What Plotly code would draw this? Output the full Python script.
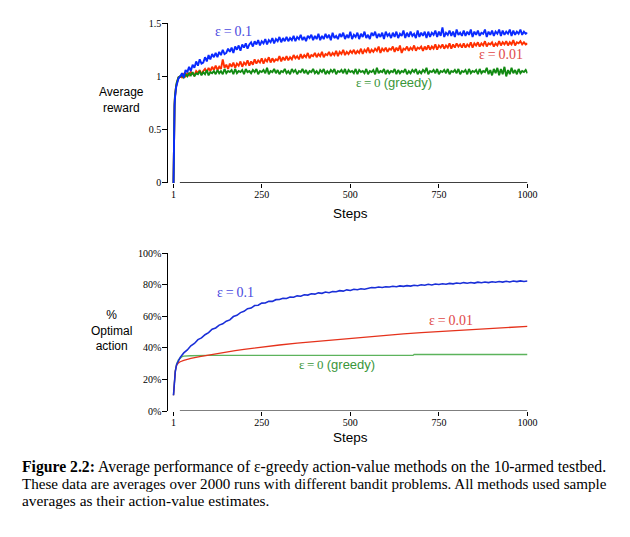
import plotly.graph_objects as go

W, H = 630, 537

# ---------------- data: top panel (average reward) ----------------
top_early_steps = [1, 2, 3, 4, 5, 6, 8, 10, 12, 15]
top_late_steps = list(range(20, 1001, 5))

reward_eps01_early = [0.0, 0.45, 0.62, 0.72, 0.79, 0.84, 0.89, 0.92, 0.95, 0.98]
reward_eps001_early = [0.0, 0.47, 0.64, 0.73, 0.80, 0.85, 0.90, 0.93, 0.96, 0.99]
reward_eps0_early = [0.0, 0.48, 0.65, 0.74, 0.81, 0.86, 0.90, 0.94, 0.97, 0.99]

reward_eps01 = [
    1.00, 1.03, 0.99, 1.06, 1.04, 1.09, 1.05, 1.11, 1.08, 1.14, 1.10, 1.16, 1.12, 1.13, 1.18, 1.14, 1.20, 1.16, 1.21, 1.18,
    1.22, 1.18, 1.23, 1.20, 1.25, 1.21, 1.22, 1.26, 1.23, 1.27, 1.22, 1.28, 1.25, 1.29, 1.24, 1.30, 1.27, 1.31, 1.26, 1.30,
    1.32, 1.28, 1.33, 1.30, 1.34, 1.29, 1.33, 1.31, 1.35, 1.30, 1.34, 1.32, 1.36, 1.31, 1.35, 1.33, 1.37, 1.32, 1.36, 1.33,
    1.37, 1.33, 1.36, 1.34, 1.38, 1.33, 1.37, 1.35, 1.39, 1.34, 1.37, 1.33, 1.38, 1.36, 1.39, 1.34, 1.38, 1.35, 1.40, 1.34,
    1.38, 1.35, 1.40, 1.36, 1.39, 1.34, 1.41, 1.36, 1.38, 1.35, 1.40, 1.37, 1.41, 1.35, 1.39, 1.36, 1.42, 1.35, 1.39, 1.37,
    1.41, 1.35, 1.40, 1.37, 1.42, 1.36, 1.39, 1.35, 1.41, 1.38, 1.42, 1.36, 1.40, 1.37, 1.41, 1.35, 1.42, 1.38, 1.40, 1.36,
    1.41, 1.37, 1.42, 1.36, 1.40, 1.38, 1.43, 1.36, 1.41, 1.37, 1.42, 1.38, 1.40, 1.36, 1.43, 1.37, 1.41, 1.38, 1.42, 1.36,
    1.42, 1.37, 1.41, 1.39, 1.43, 1.37, 1.42, 1.38, 1.46, 1.37, 1.41, 1.39, 1.43, 1.38, 1.42, 1.37, 1.44, 1.39, 1.41, 1.38,
    1.43, 1.38, 1.42, 1.39, 1.44, 1.37, 1.42, 1.39, 1.43, 1.38, 1.41, 1.40, 1.44, 1.37, 1.42, 1.39, 1.43, 1.38, 1.42, 1.40,
    1.44, 1.38, 1.43, 1.39, 1.42, 1.40, 1.44, 1.38, 1.43, 1.39, 1.42, 1.40, 1.44, 1.39, 1.42, 1.40, 1.41,
]

reward_eps001 = [
    1.00, 0.99, 1.02, 1.00, 1.03, 1.01, 1.04, 1.02, 1.01, 1.05, 1.03, 1.06, 1.02, 1.05, 1.07, 1.04, 1.08, 1.05, 1.09, 1.06,
    1.10, 1.06, 1.09, 1.07, 1.16, 1.08, 1.11, 1.07, 1.12, 1.09, 1.13, 1.08, 1.12, 1.10, 1.14, 1.09, 1.13, 1.11, 1.15, 1.10,
    1.14, 1.11, 1.16, 1.12, 1.15, 1.13, 1.17, 1.12, 1.16, 1.14, 1.18, 1.13, 1.17, 1.14, 1.16, 1.15, 1.19, 1.14, 1.18, 1.15,
    1.19, 1.15, 1.18, 1.16, 1.20, 1.17, 1.19, 1.16, 1.21, 1.17, 1.20, 1.18, 1.22, 1.17, 1.20, 1.19, 1.22, 1.18, 1.21, 1.19,
    1.23, 1.18, 1.21, 1.20, 1.23, 1.19, 1.22, 1.20, 1.24, 1.19, 1.23, 1.21, 1.25, 1.20, 1.23, 1.21, 1.24, 1.22, 1.25, 1.21,
    1.24, 1.22, 1.26, 1.21, 1.25, 1.23, 1.27, 1.22, 1.25, 1.23, 1.26, 1.24, 1.28, 1.22, 1.26, 1.24, 1.27, 1.23, 1.26, 1.25,
    1.28, 1.23, 1.27, 1.24, 1.29, 1.22, 1.26, 1.25, 1.28, 1.24, 1.27, 1.25, 1.29, 1.24, 1.27, 1.26, 1.28, 1.24, 1.28, 1.25,
    1.29, 1.25, 1.28, 1.26, 1.30, 1.25, 1.29, 1.27, 1.30, 1.26, 1.29, 1.27, 1.31, 1.26, 1.30, 1.27, 1.31, 1.28, 1.30, 1.27,
    1.31, 1.27, 1.30, 1.28, 1.32, 1.27, 1.31, 1.29, 1.32, 1.28, 1.31, 1.29, 1.33, 1.28, 1.31, 1.30, 1.32, 1.28, 1.31, 1.29,
    1.33, 1.29, 1.32, 1.30, 1.33, 1.29, 1.32, 1.30, 1.34, 1.29, 1.32, 1.31, 1.33, 1.30, 1.32, 1.30, 1.31,
]

reward_eps0 = [
    1.00, 1.01, 0.99, 1.02, 1.00, 1.03, 1.01, 1.04, 1.00, 1.03, 1.02, 1.05, 1.01, 1.04, 1.02, 1.06, 1.01, 1.04, 1.03, 1.05,
    1.02, 1.06, 1.03, 1.05, 1.02, 1.07, 1.03, 1.05, 1.04, 1.06, 1.02, 1.07, 1.03, 1.05, 1.04, 1.06, 1.02, 1.07, 1.04, 1.05,
    1.03, 1.06, 1.04, 1.07, 1.02, 1.05, 1.04, 1.06, 1.03, 1.08, 1.02, 1.05, 1.04, 1.07, 1.03, 1.06, 1.02, 1.05, 1.04, 1.07,
    1.03, 1.05, 1.02, 1.07, 1.04, 1.06, 1.02, 1.05, 1.04, 1.07, 1.03, 1.06, 1.02, 1.05, 1.04, 1.07, 1.03, 1.05, 1.02, 1.06,
    1.04, 1.07, 1.02, 1.05, 1.03, 1.06, 1.04, 1.07, 1.02, 1.05, 1.04, 1.06, 1.03, 1.07, 1.02, 1.06, 1.04, 1.05, 1.03, 1.07,
    1.02, 1.06, 1.04, 1.05, 1.03, 1.07, 1.02, 1.05, 1.04, 1.06, 1.02, 1.08, 1.03, 1.05, 1.04, 1.07, 1.02, 1.06, 1.03, 1.05,
    1.04, 1.07, 1.02, 1.06, 1.03, 1.05, 1.04, 1.07, 1.02, 1.05, 1.03, 1.06, 1.04, 1.07, 1.02, 1.05, 1.03, 1.06, 1.04, 1.08,
    1.02, 1.05, 1.04, 1.06, 1.03, 1.07, 1.02, 1.05, 1.04, 1.06, 1.03, 1.07, 1.02, 1.05, 1.04, 1.06, 1.03, 1.07, 1.02, 1.05,
    1.04, 1.06, 1.02, 1.07, 1.03, 1.05, 1.04, 1.06, 1.02, 1.07, 1.03, 1.05, 1.04, 1.08, 1.02, 1.06, 1.01, 1.07, 1.03, 1.08,
    1.01, 1.07, 1.02, 1.09, 1.00, 1.06, 1.02, 1.08, 1.03, 1.06, 1.02, 1.07, 1.03, 1.05, 1.04, 1.06, 1.03,
]

# ---------------- data: bottom panel (% optimal action) ----------------
opt_eps01_steps = [1, 2, 3, 4, 5, 6, 8] + list(range(10, 1001, 10))
opt_eps01 = [
    10, 14, 18, 21, 23, 24.8, 27.3,
    29.5, 34.0, 36.8, 38.7, 41.3, 42.8, 45.2, 46.3, 48.3, 49.6,
    51.8, 52.6, 54.4, 55.2, 56.9, 57.7, 59.8, 60.6, 62.3, 63.1,
    64.8, 65.2, 66.8, 67.0, 68.3, 68.4, 69.5, 69.4, 70.5, 70.6,
    71.4, 71.2, 72.2, 72.0, 72.9, 72.7, 73.6, 73.4, 74.2, 74.0,
    74.8, 74.5, 75.3, 74.9, 75.7, 75.5, 76.2, 75.9, 76.7, 76.3,
    77.1, 76.8, 77.4, 77.1, 77.6, 78.2, 78.0, 78.5, 78.2, 78.7,
    78.5, 79.0, 78.7, 79.2, 78.9, 79.4, 79.1, 79.6, 79.3, 79.9,
    79.6, 80.2, 79.8, 80.4, 80.1, 80.6, 80.3, 80.8, 80.5, 81.0,
    80.7, 81.3, 80.9, 81.4, 81.0, 81.6, 81.2, 81.7, 81.3, 81.8,
    81.5, 82.0, 81.6, 82.1, 81.7, 82.3, 81.9, 82.4, 82.0, 82.3,
]

opt_eps001_steps = [1, 2, 3, 4, 5, 6, 8, 10, 15, 20, 30, 40, 50, 75, 100, 125, 150, 175, 200,
                    225, 250, 275, 300, 350, 400, 450, 500, 550, 600, 650, 700, 750, 800, 850,
                    900, 950, 1000]
opt_eps001 = [10, 14, 18, 21, 23, 25, 27.5, 29, 30.5, 31.2, 32, 32.7, 33.3, 34.5, 35.5, 36.5,
              37.3, 38.2, 39, 39.8, 40.6, 41.2, 41.8, 43, 44, 45, 46.2, 47.2, 48.2, 48.9, 49.6,
              50.3, 51, 51.7, 52.4, 53, 53.6]

opt_eps0_steps = [1, 2, 3, 4, 5, 6, 8, 10, 15, 20, 25, 30, 50, 100, 677, 680, 1000]
opt_eps0 = [10, 14, 18, 21, 23.5, 25.5, 28, 30, 32.5, 33.8, 34.4, 34.7, 35.0, 35.2, 35.2, 35.8, 35.8]

x_tick_vals = [1, 250, 500, 750, 1000]
x_tick_text = ["1", "250", "500", "750", "1000"]
top_tick_vals = [0, 0.5, 1, 1.5]
top_tick_text = ["0", "0.5", "1", "1.5"]
bot_tick_vals = [0, 20, 40, 60, 80, 100]
bot_tick_text = ["0%", "20%", "40%", "60%", "80%", "100%"]

caption_lines = [
    "<b>Figure 2.2:</b> Average performance of ε-greedy action-value methods on the 10-armed testbed.",
    "These data are averages over 2000 runs with different bandit problems. All methods used sample",
    "averages as their action-value estimates.",
]

# ---------------- figure ----------------
def px(x):
    return x / W


def py(y):
    return 1 - y / H


SERIF = "Liberation Serif"
SANS = "Liberation Sans"

top_steps = top_early_steps + top_late_steps

fig = go.Figure()

fig.add_trace(go.Scatter(x=top_steps, y=reward_eps001_early + reward_eps001, mode="lines",
                         line=dict(color="#ff3000", width=1.9), xaxis="x", yaxis="y"))
fig.add_trace(go.Scatter(x=top_steps, y=reward_eps0_early + reward_eps0, mode="lines",
                         line=dict(color="#128a12", width=1.9), xaxis="x", yaxis="y"))
fig.add_trace(go.Scatter(x=top_steps, y=reward_eps01_early + reward_eps01, mode="lines",
                         line=dict(color="#0a2aff", width=1.9), xaxis="x", yaxis="y"))

fig.add_trace(go.Scatter(x=opt_eps0_steps, y=opt_eps0, mode="lines",
                         line=dict(color="#5cb35c", width=1.3), xaxis="x2", yaxis="y2"))
fig.add_trace(go.Scatter(x=opt_eps001_steps, y=opt_eps001, mode="lines",
                         line=dict(color="#e5321c", width=1.3), xaxis="x2", yaxis="y2"))
fig.add_trace(go.Scatter(x=opt_eps01_steps, y=opt_eps01, mode="lines",
                         line=dict(color="#1a2fd8", width=1.6), xaxis="x2", yaxis="y2"))

xdom = [px(171), px(536)]
xrange = [-13.7, 1000]
common_x = dict(domain=xdom, range=xrange, tickvals=x_tick_vals, ticktext=x_tick_text,
                ticks="outside", ticklen=4, tickcolor="black", showline=False, showgrid=False,
                zeroline=False, ticklabelstandoff=-2,
                tickfont=dict(family=SERIF, size=10, color="black"))
common_y = dict(ticks="outside", ticklen=5, tickcolor="black", showline=True, linecolor="black",
                linewidth=1, showgrid=False, zeroline=False, ticklabelstandoff=-1,
                tickfont=dict(family=SERIF, size=10, color="black"))

fig.update_layout(
    width=W, height=H, autosize=False,
    margin=dict(l=0, r=0, t=0, b=0),
    paper_bgcolor="white", plot_bgcolor="white",
    showlegend=False,
    xaxis=dict(anchor="y", **common_x),
    yaxis=dict(domain=[py(181), py(17.5)], range=[0, 1.5], anchor="x",
               tickvals=top_tick_vals, ticktext=top_tick_text, **common_y),
    xaxis2=dict(anchor="y2", **common_x),
    yaxis2=dict(domain=[py(414.3), py(252.7)], range=[0, 100], anchor="x2",
                tickvals=bot_tick_vals, ticktext=bot_tick_text, **common_y),
)

# horizontal axis lines (start a little right of the y axis, as in the reference)
fig.add_shape(type="line", xref="x", yref="y", x0=19, x1=1000, y0=0, y1=0,
              line=dict(color="black", width=1.2))
fig.add_shape(type="line", xref="x2", yref="y2", x0=19, x1=1000, y0=0, y1=0,
              line=dict(color="black", width=1.2))

def ann(text, x, y, color="black", family=SERIF, size=13, xanchor="center"):
    fig.add_annotation(text=text, x=px(x), y=py(y), xref="paper", yref="paper",
                       showarrow=False, xanchor=xanchor, yanchor="middle",
                       font=dict(family=family, size=size, color=color))

greek = "ε\u2009=\u2009"
# series labels
ann(greek + "0.1", 237, 26, color="#4a4ae0", size=14)
ann(greek + "0.01", 509, 50, color="#e04848", size=14)
ann(greek + "0 <span style=\"font-family:Liberation Sans\">(greedy)</span>", 400, 78,
    color="#3a963a", size=13)
ann(greek + "0.1", 239, 293, color="#4a4ae0", size=14)
ann(greek + "0.01", 458, 322, color="#e04848", size=14)
ann(greek + "0 <span style=\"font-family:Liberation Sans\">(greedy)</span>", 342, 367,
    color="#3a963a", size=13)

# axis titles
ann("Average<br>reward", 123, 96, family=SANS, size=12)
ann("%<br>Optimal<br>action", 113, 332, family=SANS, size=12)
ann("Steps", 356, 212, family=SANS, size=13.5)
ann("Steps", 356, 441, family=SANS, size=13.5)

# caption
caption_sizes = [15.7, 15.1, 15.4]
for i, line in enumerate(caption_lines):
    ann(line, 20, 472 + 17 * i, family=SERIF, size=caption_sizes[i], xanchor="left")

fig.write_html("out.html", config={"displayModeBar": False},
               post_script="document.body.style.margin='0';document.body.style.overflow='hidden';")
